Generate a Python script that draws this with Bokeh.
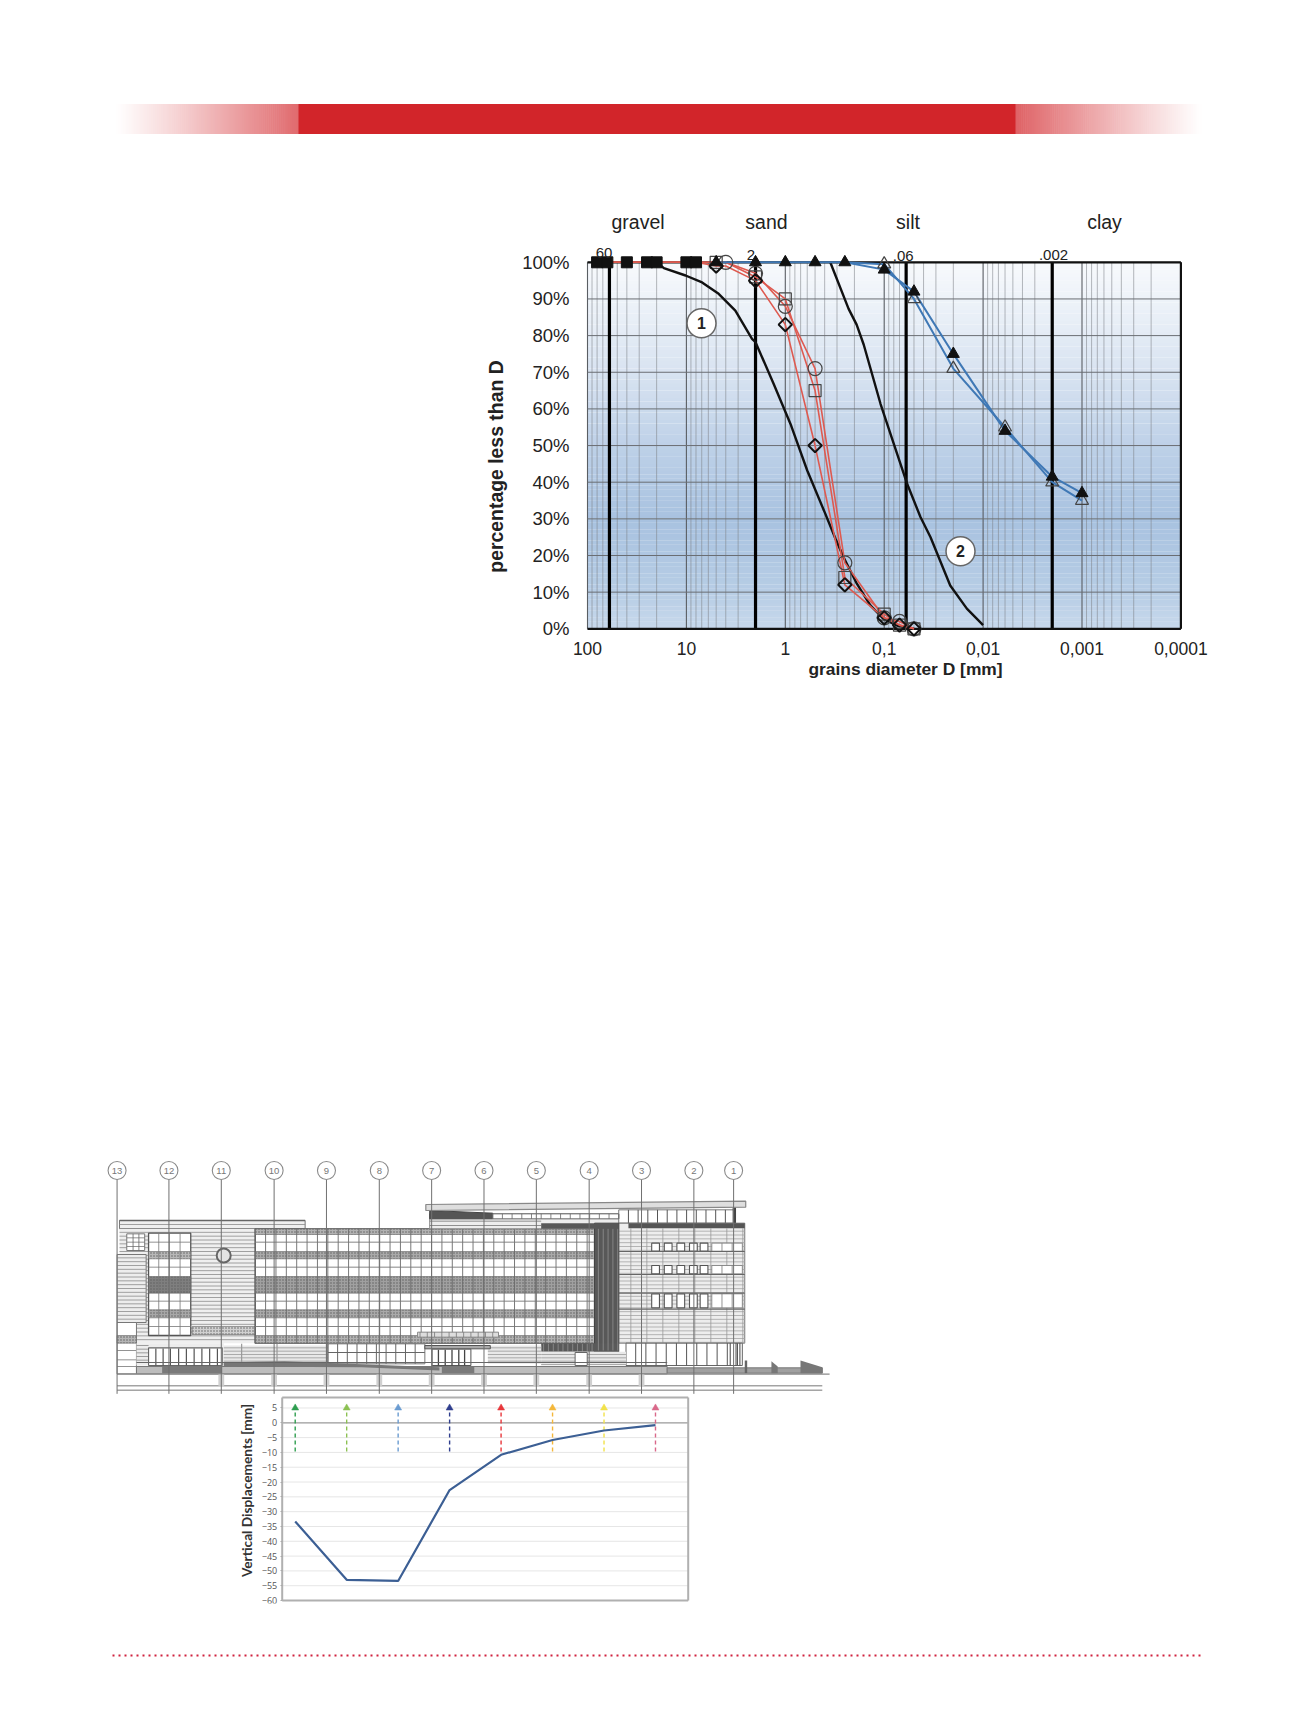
import numpy as np
from bokeh.plotting import figure
from bokeh.layouts import column
from bokeh.models import Range1d, FixedTicker, PrintfTickFormatter
from bokeh.embed import file_html
from bokeh.resources import INLINE
from bokeh.core.properties import value

# ---------- grain size chart data ----------
sieve_D = [80, 63, 40, 25, 20, 10, 8, 5, 4, 2, 1, 0.5, 0.25, 0.1, 0.07, 0.05]
circle_pct = [100, 100, 100, 100, 100, 100, 100, 100, 100, 97, 88, 71, 18, 3, 2, 0]
square_pct = [100, 100, 100, 100, 100, 100, 100, 100, 100, 96, 90, 65, 14, 4, 1, 0]
diamond_pct = [100, 100, 100, 100, 100, 100, 100, 99, 99, 95, 83, 50, 12, 3, 1, 0]

gravel_D = [80, 63, 40, 25, 20, 10, 8]
gravel_pct = [100, 100, 100, 100, 100, 100, 100]

tri_D = [5, 2, 1, 0.5, 0.25, 0.1, 0.05, 0.02, 0.006, 0.002, 0.001]
tri_pct = [100, 100, 100, 100, 100, 98, 92, 75, 54, 41.5, 37]
open_D = [0.25, 0.1, 0.05, 0.02, 0.006, 0.002, 0.001]
open_pct = [100, 99.5, 90, 71, 55, 40, 35]

curve1_D = [20, 16.9, 10.2, 6.94, 4.72, 3.2, 2.17, 2.0, 1.31, 0.886, 0.60, 0.407, 0.31, 0.2576, 0.189, 0.138, 0.1016, 0.0745, 0.05]
curve1_pct = [100, 98.4, 96.4, 94.5, 91.4, 86.8, 79.1, 78.2, 66.8, 55.9, 43.2, 32.3, 24.5, 19.5, 12.3, 6.4, 2.7, 0.9, 0]
curve2_D = [0.351, 0.229, 0.19, 0.161, 0.109, 0.074, 0.0585, 0.043, 0.034, 0.0215, 0.0146, 0.01]
curve2_pct = [100, 87.3, 83, 77.5, 61.4, 47.7, 39.5, 30.5, 25, 11.8, 5.5, 1]

limits_D = [60, 2, 0.06, 0.002]
limit_labels = ["60", "2", ".06", ".002"]
x_tick_vals = [100, 10, 1, 0.1, 0.01, 0.001, 0.0001]
x_tick_text = ["100", "10", "1", "0,1", "0,01", "0,001", "0,0001"]
y_tick_vals = [0, 10, 20, 30, 40, 50, 60, 70, 80, 90, 100]

grad_pct = [0, 10, 30, 50, 70, 90, 100]
grad_rgb = [(200, 217, 236), (183, 205, 229), (168, 194, 224), (190, 209, 232), (216, 227, 241), (238, 243, 249), (247, 249, 252)]

# ---------- displacement chart data ----------
disp_x = [1, 2, 3, 4, 5, 6, 7, 8]
disp_mm = [-33.3, -53, -53.4, -22.7, -10.8, -5.8, -2.6, -0.8]
arrow_colors = ["#2e9e4f", "#8cc152", "#6a9bd1", "#2f3e8e", "#e8363a", "#f4b73a", "#f2e24a", "#d9688a"]
disp_ticks = [5, 0, -5, -10, -15, -20, -25, -30, -35, -40, -45, -50, -55, -60]

# ---------- building drawing data (drawing units) ----------
axis_names = ["13", "12", "11", "10", "9", "8", "7", "6", "5", "4", "3", "2", "1"]
axis_x = [55, 162, 270, 379, 487, 596, 704, 812, 920, 1029, 1137, 1245, 1327]
FONT = "Liberation Sans"


def base(height, **kw):
    p = figure(width=1283, height=height, output_backend="svg", toolbar_location=None, frame_align=False, **kw)
    p.outline_line_color = None
    p.min_border = 0
    p.grid.visible = False
    return p


def blend(alpha):
    r, g, b_ = 210, 37, 42
    return "#%02x%02x%02x" % tuple(int(round(255 + (v - 255) * alpha)) for v in (r, g, b_))


# ---------- header ----------
head = base(182, x_range=Range1d(8, 1291), y_range=Range1d(190, 8), x_axis_type=None, y_axis_type=None)
RED = "#d2252a"
fade = np.linspace(0, 1, 91)
for a, b_ in zip(fade[:-1], fade[1:]):
    head.quad(left=[116 + a * 182], right=[116 + b_ * 182 + 0.6], top=[103.5], bottom=[133.5], fill_color=blend(0.68 * b_ ** 1.1), line_color=None)
    head.quad(left=[1015 + a * 186 - 0.6], right=[1015 + b_ * 186], top=[103.5], bottom=[133.5], fill_color=blend(0.72 * (1 - a) ** 1.1), line_color=None)
head.quad(left=[298], right=[1015], top=[103.5], bottom=[133.5], fill_color=RED, line_color=None)

# ---------- grain size chart ----------
LEFT, RIGHT, TOP, BOT = 480, 1290, 190, 720
AX_L, AX_B = 578, 632
PX0, DEC = 587.0, 98.9
Y100, PCT = 261.8, 3.665


def dx(px):
    return 100 * 10 ** (-(px - PX0) / DEC)


def dy(py):
    return 100 - (py - Y100) / PCT


c = figure(width=1283, height=530, output_backend="svg", toolbar_location=None, x_axis_type="log", frame_align=False,
           x_range=Range1d(dx(LEFT), dx(RIGHT)), y_range=Range1d(dy(BOT), dy(TOP)),
           min_border_left=LEFT - 8, min_border_right=1291 - RIGHT, min_border_top=0, min_border_bottom=0,
           frame_width=RIGHT - LEFT, frame_height=BOT - TOP)
c.outline_line_color = None
c.grid.visible = False
ax = c.xaxis[0]
ax.fixed_location = dy(AX_B)
ax.ticker = FixedTicker(ticks=x_tick_vals)
ax.major_label_overrides = dict(zip(x_tick_vals, x_tick_text))
ax.major_label_text_font = FONT
ax.major_label_text_font_size = "17.5px"
ax.major_label_text_color = "#222222"
ax.major_label_standoff = 3
ax.major_tick_line_color = None
ax.minor_tick_line_color = None
ax.axis_line_color = None
ay = c.yaxis[0]
ay.fixed_location = dx(AX_L)
ay.ticker = FixedTicker(ticks=y_tick_vals)
ay.formatter = PrintfTickFormatter(format="%d%%")
ay.major_label_text_font = FONT
ay.major_label_text_font_size = "18.5px"
ay.major_label_text_color = "#222222"
ay.major_label_standoff = 3
ay.major_tick_line_color = None
ay.minor_tick_line_color = None
ay.axis_line_color = None

# gradient background
edges = np.linspace(0, 100, 101)
rgb = np.array(grad_rgb, float)
for lo, hi in zip(edges[:-1], edges[1:]):
    col = [int(round(np.interp(lo + 0.5, grad_pct, rgb[:, i]))) for i in range(3)]
    c.quad(left=[100], right=[0.0001], bottom=[lo], top=[hi + 0.05], fill_color="#%02x%02x%02x" % tuple(col), line_color=None)

minor_D = [m * 10.0 ** e for e in range(-4, 2) for m in range(2, 10)]
c.segment(x0=minor_D, x1=minor_D, y0=[0] * len(minor_D), y1=[100] * len(minor_D), line_color="#7d8287", line_width=0.8, line_alpha=0.7)
c.segment(x0=x_tick_vals, x1=x_tick_vals, y0=[0] * 7, y1=[100] * 7, line_color="#5a5e63", line_width=1.1)
c.segment(x0=[100] * 11, x1=[0.0001] * 11, y0=y_tick_vals, y1=y_tick_vals, line_color="#6a6e73", line_width=1)
c.segment(x0=limits_D, x1=limits_D, y0=[0] * 4, y1=[100] * 4, line_color="black", line_width=3.2)
c.segment(x0=[100, 100, 0.0001], x1=[0.0001, 0.0001, 0.0001], y0=[100, 0, 0], y1=[100, 0, 100], line_color="#111111", line_width=2.2)

c.line(curve1_D, curve1_pct, line_color="#111111", line_width=2.4)
c.line(curve2_D, curve2_pct, line_color="#111111", line_width=2.4)
RL = "#de5a50"
c.line(sieve_D, circle_pct, line_color=RL, line_width=1.6)
c.line(sieve_D, square_pct, line_color=RL, line_width=1.6)
c.line(sieve_D, diamond_pct, line_color=RL, line_width=1.6)
BL = "#3f78b5"
c.line(tri_D, tri_pct, line_color=BL, line_width=2)
c.line(open_D, open_pct, line_color=BL, line_width=2)

c.scatter(gravel_D, gravel_pct, marker="square", size=11, fill_color="#111111", line_color="#111111")
c.scatter(sieve_D[8:], circle_pct[8:], marker="circle", size=14, fill_color=None, line_color="#444444", line_width=1.2)
c.scatter(sieve_D[7:8] + sieve_D[9:], square_pct[7:8] + square_pct[9:], marker="square", size=12, fill_color=None, line_color="#444444", line_width=1.2)
c.scatter(open_D[1:], open_pct[1:], marker="triangle", size=13, fill_color=None, line_color="#444444", line_width=1.2)
c.scatter(tri_D, tri_pct, marker="triangle", size=12, fill_color="#111111", line_color="#111111")
c.scatter(sieve_D[7:8] + sieve_D[9:], diamond_pct[7:8] + diamond_pct[9:], marker="square", angle=np.pi / 4, size=9.5, fill_color=None, line_color="#111111", line_width=2)

# numbered badges
c.scatter([dx(701), dx(960)], [dy(322.7), dy(550.7)], marker="circle", size=29, fill_color="white", line_color="#666666", line_width=1.5)


def lab(txt, px, py, size, style="normal", angle=0.0):
    c.text([dx(px)], [dy(py)], text=[txt], text_font=value(FONT), text_font_size=size, text_font_style=style,
           text_color="#222222", text_align="center", text_baseline="middle", angle=angle)


lab("1", 701, 322.7, "16px", "bold")
lab("2", 960, 550.7, "16px", "bold")
for txt, px in (("gravel", 637.5), ("sand", 766), ("silt", 907.5), ("clay", 1104)):
    lab(txt, px, 221, "19.5px")
for txt, px, py in zip(limit_labels, (603.6, 750.5, 902.7, 1053), (252, 254, 255, 254)):
    lab(txt, px, py, "15px")
lab("grains diameter D [mm]", 905, 668, "17.4px", "bold")
lab("percentage less than D", 495, 466, "19.4px", "bold", np.pi / 2)

# ---------- building drawing ----------
b = base(675, x_range=Range1d(-169, 2478), y_range=Range1d(735, -1290), x_axis_type=None, y_axis_type=None)


def rect(x0, x1, y0, y1, fill="white", line=None, lw=1.0, **kw):
    b.quad(left=[x0], right=[x1], top=[y0], bottom=[y1], fill_color=fill, line_color=line, line_width=lw, **kw)


def hlines(x0, x1, ys, color="#777777", lw=0.8):
    ys = list(ys)
    b.segment(x0=[x0] * len(ys), x1=[x1] * len(ys), y0=ys, y1=ys, line_color=color, line_width=lw)


def vlines(xs, y0, y1, color="#666666", lw=0.8):
    xs = list(xs)
    b.segment(x0=xs, x1=xs, y0=[y0] * len(xs), y1=[y1] * len(xs), line_color=color, line_width=lw)


def stipple(x0, x1, y0, y1, fill="#a6a6a6"):
    rect(x0, x1, y0, y1, fill=fill, line="#666666", lw=0.6, hatch_pattern="dot", hatch_color="#5f5f5f", hatch_scale=3, hatch_weight=0.6)


# left block with siding
rect(60, 443, 210, 235, fill="#efefef", line="#777777")
rect(60, 340, 235, 578, fill="#efefef")
hlines(60, 443, np.arange(222, 235, 12), "#8c8c8c")
hlines(60, 340, np.arange(234, 578, 11.5), "#8c8c8c")
rect(55, 115, 312, 516, fill="#ededed", line="#777777")
hlines(55, 115, np.arange(322, 516, 11.5), "#8c8c8c")
b.segment(x0=[60], x1=[443], y0=[210], y1=[210], line_color="#666666", line_width=1.6)
rect(75, 112, 250, 300, fill="white", line="#777777")
hlines(75, 112, (262, 275, 288))
vlines((88, 100), 250, 300)
# tower 12
rect(120, 207, 248, 555, fill="white", line="#555555", lw=1.3)
stipple(120, 207, 303, 325, "#b8b8b8")
stipple(120, 207, 378, 428, "#7f7f7f")
stipple(120, 207, 478, 502, "#a8a8a8")
vlines((141, 163, 185), 248, 555, "#777777")
hlines(120, 207, (275, 350, 452, 528), "#777777")
# clock
b.scatter([275], [315], marker="circle", size=14, fill_color="#e4e4e4", line_color="#666666", line_width=2)
stipple(210, 340, 528, 552, "#d0d0d0")
# lower-left box
rect(55, 95, 516, 670, fill="white", line="#777777")
stipple(55, 95, 555, 578, "#b5b5b5")
hlines(55, 95, (600, 628, 648), "#777777")

# central facade
rect(340, 1040, 235, 578, fill="white", line="#444444", lw=1.3)
for y0, y1, col in ((235, 252, "#b2b2b2"), (303, 325, "#aaaaaa"), (378, 428, "#a0a0a0"), (478, 502, "#aaaaaa"), (555, 578, "#b2b2b2")):
    stipple(340, 1040, y0, y1, col)
vlines(np.arange(340, 1040, 21.4), 235, 578, "#6a6a6a", 0.9)
hlines(340, 1040, (275, 350, 452, 528), "#777777", 0.9)

# clerestory and roof
rect(700, 1110, 190, 235, fill="#ededed", line="#888888")
hlines(700, 930, (212, 225))
rect(1090, 1330, 178, 218, fill="white", line="#777777")
b.patch(x=[700, 830, 830, 700], y=[180, 188, 205, 205], fill_color="#555555", line_color="#444444")
rect(830, 1090, 190, 205, fill="white", line="#666666")
vlines(np.arange(830, 1110, 20), 190, 205, "#666666")
vlines(np.arange(1110, 1330, 20), 178, 218, "#555555", 1)
rect(1325, 1332, 170, 222, fill="#444444")
b.patch(x=[692, 1352, 1352, 692], y=[162, 152, 170, 180], fill_color="#dedede", line_color="#888888", line_width=1.2)

# right block
rect(1090, 1350, 218, 578, fill="#ededed", line="#777777")
rect(1110, 1350, 218, 233, fill="#555555")
hlines(1090, 1350, np.arange(242, 578, 11.5), "#a5a5a5", 0.8)
vlines(np.arange(1115, 1350, 33), 233, 578, "#999999", 0.8)
for y0, y1 in ((278, 302), (345, 370), (430, 472)):
    for x0 in (1158, 1184, 1210, 1236, 1258):
        rect(x0, x0 + 16, y0, y1, fill="white", line="#555555", lw=1.1)
    rect(1282, 1345, y0, y1, fill="white", line="#777777", lw=0.8)
    vlines((1303, 1324), y0, y1, "#777777")
hlines(1090, 1350, (303, 372, 428, 476), "#666666", 1.1)
# storefront
rect(1105, 1345, 578, 645, fill="white", line="#666666")
vlines(np.arange(1125, 1345, 21), 578, 645, "#555555", 1)
vlines((1320, 1332, 1340), 578, 645, "#444444", 1)

# dark column
rect(1040, 1090, 218, 604, fill="#585858", line="#444444")
rect(930, 1090, 218, 235, fill="#585858")
rect(930, 1090, 578, 604, fill="#5a5a5a")
vlines(np.arange(1048, 1090, 10), 235, 600, "#9a9a9a", 0.7)
vlines(np.arange(935, 1040, 10), 580, 604, "#9a9a9a", 0.7)

# ground floor
rect(95, 275, 578, 645, fill="#ececec")
hlines(95, 120, np.arange(585, 640, 11), "#888888")
rect(120, 272, 592, 645, fill="white", line="#666666", lw=1.1)
vlines((135, 150, 165, 182, 198, 214, 230, 246, 262), 594, 645, "#555555", 1.2)
rect(275, 490, 585, 640, fill="#e8e8e8")
hlines(275, 490, np.arange(592, 640, 10), "#999999")
vlines((312, 385, 487), 580, 640, "#999999", 1.2)
rect(490, 690, 580, 640, fill="white", line="#777777")
vlines(np.arange(490, 690, 20), 580, 640, "#666666", 1)
hlines(490, 690, (606,), "#666666", 1)
rect(820, 930, 585, 640, fill="#e8e8e8")
hlines(820, 930, np.arange(592, 640, 10), "#999999")
rect(930, 1105, 604, 645, fill="#e8e8e8")
hlines(930, 1105, np.arange(612, 645, 10), "#999999")
rect(1000, 1025, 606, 645, fill="white", line="#666666")
rect(690, 825, 585, 595, fill="#aaaaaa", line="#555555")
rect(705, 785, 596, 645, fill="white", line="#555555")
vlines((718, 732, 746, 760, 772), 598, 645, "#444444", 1.3)
rect(675, 842, 545, 560, fill="#dddddd", line="#888888")
vlines(np.arange(680, 840, 15), 545, 560, "#777777", 0.8)
# plinth
rect(95, 1190, 648, 670, fill="#bdbdbd", line="#777777")
rect(148, 272, 648, 668, fill="#7a7a7a")
rect(725, 792, 648, 668, fill="#7a7a7a")
b.patch(x=[275, 400, 720, 720, 560, 275], y=[636, 632, 650, 660, 650, 648], fill_color="#777777", line_color=None)
hlines(95, 1190, (636, ), "#666666", 1)
# ramp
rect(1190, 1510, 652, 668, fill="#a0a0a0", line="#777777")
b.patch(x=[1405, 1418, 1418, 1405], y=[632, 648, 668, 668], fill_color="#777777", line_color=None)
b.patch(x=[1465, 1510, 1510, 1465], y=[630, 650, 668, 668], fill_color="#777777", line_color=None)
rect(1350, 1355, 630, 668, fill="#666666")

# ground lines and stubs
hlines(55, 1525, (671,), "#8a8a8a", 1.1)
hlines(55, 1510, (706, 719), "#777777", 1)
b.quad(left=[x - 6 for x in axis_x[2:-2]], right=[x + 6 for x in axis_x[2:-2]], top=[672] * 9, bottom=[706] * 9,
       fill_color="#d0d0d0", line_color=None)
b.segment(x0=axis_x, x1=axis_x, y0=[82] * 13, y1=[730] * 13, line_color="#707070", line_width=1)
b.scatter(axis_x, [60] * 13, marker="circle", size=18, fill_color="white", line_color="#8a8a8a", line_width=1.1)
b.text(axis_x, [60] * 13, text=axis_names, text_align="center", text_baseline="middle", text_font_size="9.5px", text_color="#777777")

# ---------- displacement chart ----------
XU, X1 = 51.47, 294.7
YU, Y0 = 2.962, 1422.3


def ux(px):
    return 1 + (px - X1) / XU


def uy(py):
    return (Y0 - py) / YU


FL, FR, FT, FB = 232, 690, 1395, 1603
d = figure(width=1283, height=245, output_backend="svg", toolbar_location=None, frame_align=False,
           x_range=Range1d(ux(FL), ux(FR)), y_range=Range1d(uy(FB), uy(FT)),
           min_border_left=FL - 8, min_border_right=1291 - FR, min_border_top=0, min_border_bottom=1640 - FB,
           frame_width=FR - FL, frame_height=FB - FT, x_axis_type=None)
d.outline_line_color = None
d.grid.visible = False
y = d.yaxis[0]
y.fixed_location = ux(281.7)
y.ticker = FixedTicker(ticks=disp_ticks)
y.major_label_text_font_size = "9px"
y.major_label_text_font = "Open Sans"
y.major_label_text_color = "#555555"
y.major_label_standoff = 3
y.major_tick_in = 0
y.major_tick_out = 2
y.major_tick_line_color = "#aaaaaa"
y.minor_tick_line_color = None
y.axis_line_color = None
BOX_L, BOX_R, BOX_T, BOX_B = ux(281.7), ux(687.7), uy(1397), -60
d.segment(x0=[BOX_L] * 12, x1=[BOX_R] * 12, y0=disp_ticks[2:], y1=disp_ticks[2:], line_color="#e6e6e6", line_width=1)
d.segment(x0=[BOX_L], x1=[BOX_R], y0=[5], y1=[5], line_color="#e6e6e6", line_width=1)
d.segment(x0=[BOX_L], x1=[BOX_R], y0=[0], y1=[0], line_color="#9a9a9a", line_width=1.2)
d.segment(x0=[BOX_L, BOX_L, BOX_L, BOX_R], x1=[BOX_R, BOX_R, BOX_L, BOX_R], y0=[BOX_T, BOX_B, BOX_B, BOX_B], y1=[BOX_T, BOX_B, BOX_T, BOX_T],
          line_color="#b0b0b0", line_width=2)
d.segment(x0=disp_x, x1=disp_x, y0=[3.5] * 8, y1=[-10.5] * 8, line_color=arrow_colors, line_width=1.4, line_dash="4 3")
d.scatter(disp_x, [5] * 8, marker="triangle", size=7, fill_color=arrow_colors, line_color=arrow_colors, line_alpha=0.5)
d.line(disp_x, disp_mm, line_color="#3c5f94", line_width=2.2)
d.text([ux(245.7)], [uy(1490)], text=["Vertical Displacements [mm]"], text_font=value("Lato"), text_font_style="bold",
       text_font_size="13.7px", text_color="#333333", text_align="center", text_baseline="middle", angle=np.pi / 2)

# ---------- footer ----------
f = base(80, x_range=Range1d(8, 1291), y_range=Range1d(1720, 1640), x_axis_type=None, y_axis_type=None)
f.segment(x0=[112], x1=[1201], y0=[1655], y1=[1655], line_color="#d0223f", line_width=2, line_dash="2 4")

page = column(head, c, b, d, f, spacing=0, margin=(8, 0, 0, 8))
open("out.html", "w").write(file_html(page, INLINE))
